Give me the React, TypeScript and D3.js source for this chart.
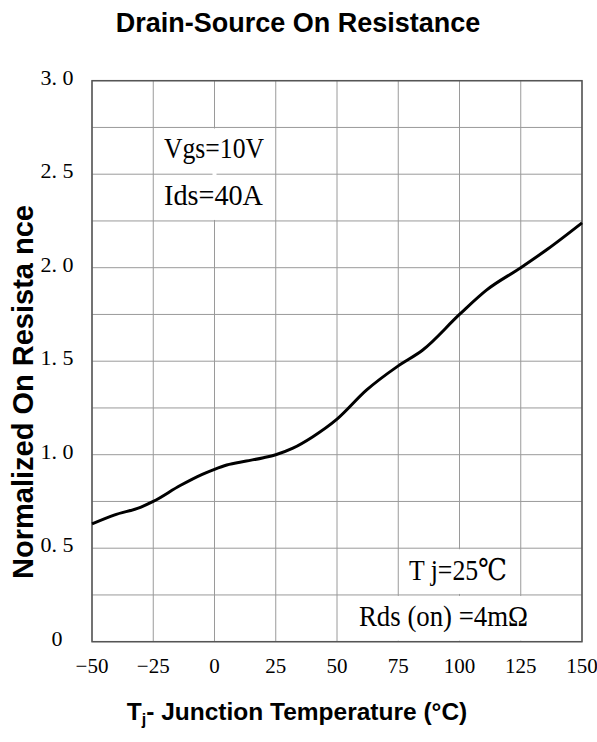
import React, { useRef, useEffect } from 'react'
import { select, scaleLinear, line, curveMonotoneX } from 'd3'

// curve
const temps = [-50, -41, -30, -25, -14, -5, 0, 5, 13, 20, 25, 32, 40, 50, 62, 75, 85, 100, 111, 125, 136, 150]
const resist = [0.63, 0.677, 0.72, 0.75, 0.835, 0.895, 0.922, 0.945, 0.966, 0.984, 1.0, 1.035, 1.095, 1.19, 1.345, 1.475, 1.56, 1.75, 1.88, 2.0, 2.1, 2.24]

const xTicks = [-50, -25, 0, 25, 50, 75, 100, 125, 150]
const yGrid = [0, 0.25, 0.5, 0.75, 1, 1.25, 1.5, 1.75, 2, 2.25, 2.5, 2.75, 3]
const yTicks = [0, 0.5, 1, 1.5, 2, 2.5, 3]
const yTickLabels = ['0', '0. 5', '1. 0', '1. 5', '2. 0', '2. 5', '3. 0']

function App() {
  const ref = useRef<SVGSVGElement>(null)
  const width = 597, height = 742
  const left = 92, top = 80.7, right = 582, bottom = 641.7

  useEffect(() => {
    const svg = select(ref.current)
    svg.selectAll('*').remove()

    const x = scaleLinear().domain([-50, 150]).range([left, right])
    const y = scaleLinear().domain([0, 3]).range([bottom, top])
    const serif = '"Liberation Serif", "DejaVu Serif", serif'
    const sans = '"Liberation Sans", Arial, sans-serif'

    // grid
    xTicks.forEach(t => {
      svg.append('line')
        .attr('x1', x(t)).attr('x2', x(t))
        .attr('y1', top).attr('y2', bottom)
        .attr('stroke', '#9a9a9a').attr('stroke-width', 1)
    })
    yGrid.forEach(v => {
      svg.append('line')
        .attr('x1', left).attr('x2', right)
        .attr('y1', y(v)).attr('y2', y(v))
        .attr('stroke', '#9a9a9a').attr('stroke-width', 1)
    })

    // white out gridlines behind the note boxes
    const mask = (t: number, v0: number, v1: number) => {
      svg.append('rect')
        .attr('x', x(t) - 2).attr('width', 4)
        .attr('y', y(v1) + 1).attr('height', y(v0) - y(v1) - 2)
        .attr('fill', 'white')
    }
    mask(0, 2.25, 2.75)
    mask(100, 0.25, 0.5)
    mask(75, 0, 0.25)
    mask(100, 0, 0.25)
    mask(125, 0, 0.25)

    // border
    svg.append('rect')
      .attr('x', left).attr('y', top)
      .attr('width', right - left).attr('height', bottom - top)
      .attr('fill', 'none').attr('stroke', '#555').attr('stroke-width', 1.5)

    // curve
    const pts = temps.map((t, i) => [t, resist[i]] as [number, number])
    const lineGen = line<[number, number]>()
      .x(d => x(d[0]))
      .y(d => y(d[1]))
      .curve(curveMonotoneX)
    svg.append('path')
      .attr('d', lineGen(pts))
      .attr('fill', 'none')
      .attr('stroke', 'black')
      .attr('stroke-width', 3)

    // tick labels
    xTicks.forEach(t => {
      svg.append('text')
        .attr('x', x(t)).attr('y', 673)
        .attr('text-anchor', 'middle')
        .style('font-family', serif).style('font-size', '21px')
        .text(t < 0 ? '\u2212' + Math.abs(t) : String(t))
    })
    yTicks.forEach((v, i) => {
      svg.append('text')
        .attr('x', 57).attr('y', y(v) + 4)
        .attr('text-anchor', 'middle')
        .style('font-family', serif).style('font-size', '22px')
        .text(yTickLabels[i])
    })

    // notes
    const note = (txt: string, xs: number, ys: number, len: number) => {
      svg.append('text')
        .attr('x', xs).attr('y', ys)
        .attr('textLength', len).attr('lengthAdjust', 'spacingAndGlyphs')
        .style('font-family', serif).style('font-size', '30px')
        .text(txt)
    }
    note('Vgs=10V', 164, 158, 100)
    note('Ids=40A', 164, 205, 99)
    note('T j=25\u2103', 409, 580, 98)
    note('Rds (on) =4m\u03A9', 359, 626, 169)

    // titles
    svg.append('text')
      .attr('x', 298).attr('y', 32)
      .attr('text-anchor', 'middle')
      .style('font-family', sans).style('font-size', '27px').style('font-weight', 'bold')
      .text('Drain-Source On Resistance')

    const xl = svg.append('text')
      .attr('x', 297).attr('y', 720)
      .attr('text-anchor', 'middle')
      .style('font-family', sans).style('font-size', '24.5px').style('font-weight', 'bold')
    xl.append('tspan').text('T')
    xl.append('tspan').attr('dy', 5).style('font-size', '16px').text('j')
    xl.append('tspan').attr('dy', -5).text('- Junction Temperature (°C)')

    svg.append('text')
      .attr('transform', 'translate(33, 392) rotate(-90)')
      .attr('text-anchor', 'middle')
      .style('font-family', sans).style('font-size', '29px').style('font-weight', 'bold')
      .text('Normalized On Resista nce')
  }, [])

  return (
    <svg ref={ref} width={width} height={height}
      style={{ position: 'absolute', left: 0, top: 0, background: 'white' }} />
  )
}

export default App
